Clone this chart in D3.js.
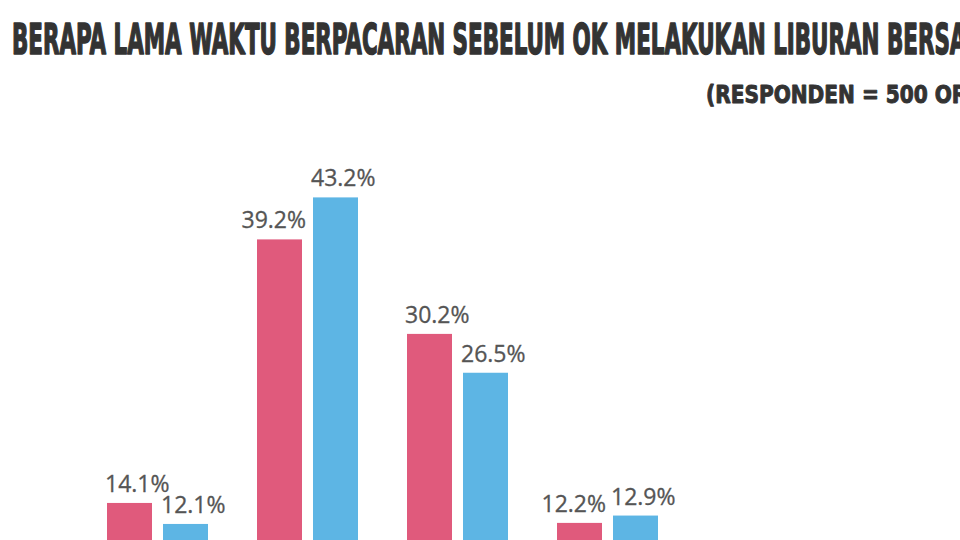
<!DOCTYPE html>
<html>
<head>
<meta charset="utf-8">
<script src="https://cdn.jsdelivr.net/npm/d3@7"></script>
<style>
  html, body { margin: 0; padding: 0; background: #ffffff; overflow: hidden; }
  svg { display: block; }
</style>
</head>
<body>
<svg id="chart" width="960" height="540"></svg>
<script>
// ---- data ----
const titleText = "BERAPA LAMA WAKTU BERPACARAN SEBELUM OK MELAKUKAN LIBURAN BERSAMA?";
const subtitleText = "(RESPONDEN = 500 ORANG)";
const categories = ["< 6 Bulan", "6 Bulan - 1 Tahun", "1 - 2 Tahun", "> 2 Tahun"];
const seriesNames = ["Wanita", "Pria"];
const wanitaValues = [14.1, 39.2, 30.2, 12.2];
const priaValues = [12.1, 43.2, 26.5, 12.9];
const seriesColors = ["#e05a7c", "#5db5e4"];

// ---- setup ----
const svg = d3.select("#chart");
const W = 960, H = 540;
svg.append("rect").attr("width", W).attr("height", H).attr("fill", "#fff");

const rows = categories.map((c, i) => ({
  category: c,
  values: [wanitaValues[i], priaValues[i]]
}));

// baseline lies below the visible frame (chart is cropped)
const y = d3.scaleLinear().domain([0, 50]).range([651, 126]);
const x0 = d3.scaleBand().domain(categories).range([82.5, 682.5])
  .paddingInner(49 / 150).paddingOuter(49 / 300);
const x1 = d3.scaleBand().domain(seriesNames).range([0, x0.bandwidth()])
  .paddingInner(2 - x0.bandwidth() / 56);

const groups = svg.append("g").selectAll("g").data(rows).join("g")
  .attr("transform", d => `translate(${x0(d.category)},0)`);

groups.selectAll("rect").data(d => d.values.map((v, j) => ({ v, j, s: seriesNames[j] })))
  .join("rect")
  .attr("x", d => x1(d.s))
  .attr("y", d => y(d.v))
  .attr("width", x1.bandwidth())
  .attr("height", d => y(0) - y(d.v))
  .attr("fill", d => seriesColors[d.j]);

// value labels
groups.selectAll("text").data(d => d.values.map((v, j) => ({
    v, j, s: seriesNames[j], other: d.values[1 - j]
  })))
  .join("text")
  .attr("x", d => (d.j === 0 && d.v < d.other) ? x1(d.s) + x1.bandwidth() + 4 : x1(d.s) - 2)
  .attr("y", d => y(d.v) - 11)
  .attr("text-anchor", d => (d.j === 0 && d.v < d.other) ? "end" : "start")
  .attr("font-family", "'Open Sans', 'Noto Sans', sans-serif")
  .attr("font-size", 23)
  .attr("fill", "#555555")
  .attr("stroke", "#555555")
  .attr("stroke-width", 0.3)
  .text(d => d.v.toFixed(1) + "%");

// ---- title & subtitle (cropped at the right edge, as in the source) ----
function fitText(sel, prefixLen, x0px, x1px) {
  const node = sel.node();
  const w = node.getSubStringLength(0, prefixLen);
  const k = (x1px - x0px) / w;
  sel.attr("transform", `translate(${x0px},0) scale(${k},1)`);
}

const title = svg.append("text")
  .attr("x", 0).attr("y", 54)
  .attr("font-family", "'DejaVu Sans Condensed', 'DejaVu Sans', sans-serif")
  .attr("font-weight", "bold")
  .attr("font-size", 43)
  .attr("fill", "#333333")
  .attr("stroke", "#333333")
  .attr("stroke-width", 1.6)
  .attr("stroke-linejoin", "round")
  .text(titleText);
fitText(title, titleText.indexOf("BERSAMA") + 4, 12, 950);

const sub = svg.append("text")
  .attr("x", 0).attr("y", 103)
  .attr("font-family", "'DejaVu Sans Condensed', 'DejaVu Sans', sans-serif")
  .attr("font-weight", "bold")
  .attr("font-size", 24)
  .attr("fill", "#333333")
  .attr("stroke", "#333333")
  .attr("stroke-width", 0.9)
  .attr("stroke-linejoin", "round")
  .text(subtitleText);
fitText(sub, subtitleText.indexOf("ORANG") + 1, 706, 952);
</script>
</body>
</html>
